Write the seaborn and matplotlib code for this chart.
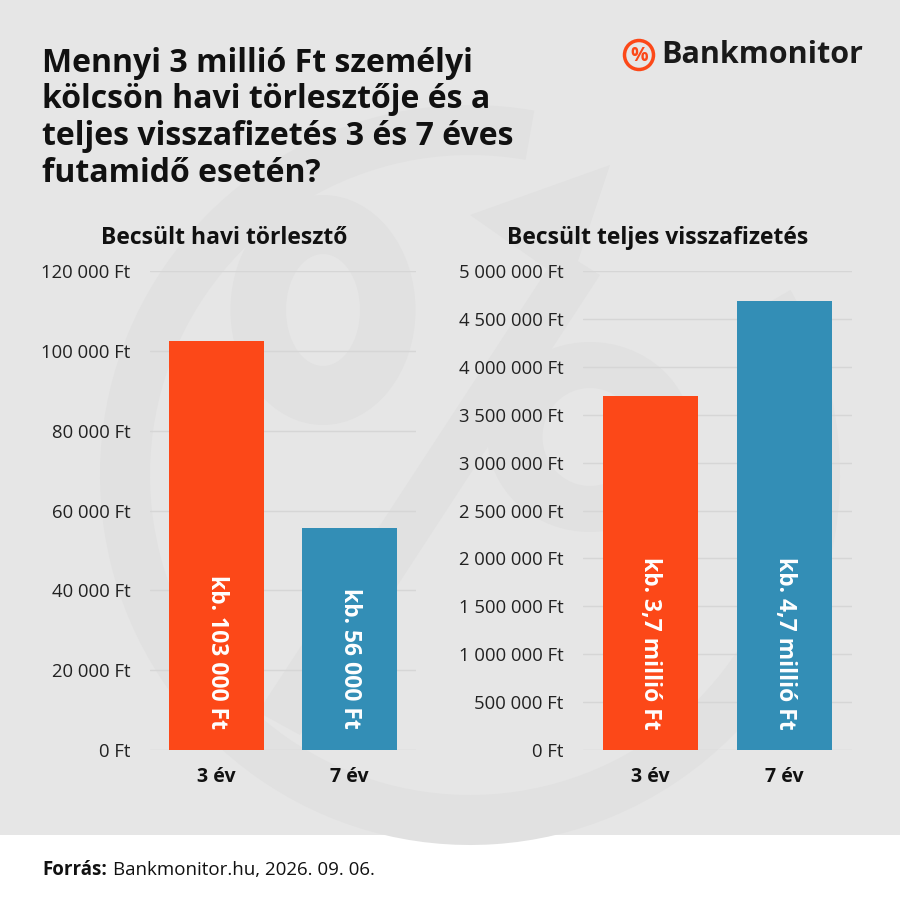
import numpy as np
import pandas as pd
import matplotlib.pyplot as plt
import seaborn as sns
from matplotlib.patches import Rectangle, Ellipse, Wedge, Polygon, Circle
from matplotlib.ticker import FuncFormatter, MultipleLocator

sns.set_theme(style="white")
plt.rcParams['font.family'] = ['Open Sans', 'DejaVu Sans']

# Data
periods = ["3 év", "7 év"]
monthly_payment = [102500, 55600]
monthly_labels = ["kb. 103 000 Ft", "kb. 56 000 Ft"]
total_repayment = [3690000, 4690000]
total_labels = ["kb. 3,7 millió Ft", "kb. 4,7 millió Ft"]

ORANGE = '#fc4818'
BLUE = '#338eb6'
BG = '#e6e6e6'
MARK = '#e1e1e1'
TEXT = '#111111'

fig = plt.figure(figsize=(9, 9), dpi=100, facecolor='white')

# background layer in pixel coordinates
bg = fig.add_axes([0, 0, 1, 1], zorder=-10)
bg.set_xlim(0, 900)
bg.set_ylim(900, 0)
bg.axis('off')
panel = Rectangle((0, 0), 900, 835, color=BG, lw=0)
bg.add_patch(panel)

# faint percent-sign watermark
shapes = [
    Wedge((470, 475), 370, -30, 280, width=50),
    Polygon([(470, 215), (610, 165), (570, 285)]),
    Polygon([(560, 250), (600, 275), (300, 735), (258, 712)]),
    Ellipse((323, 310), 185, 230),
    Ellipse((590, 437), 205, 190),
]
for s in shapes:
    s.set_facecolor(MARK)
    s.set_edgecolor('none')
    s.set_clip_path(panel)
    bg.add_patch(s)
for center, w, h in [((323, 310), 74, 112), ((590, 437), 95, 98)]:
    hole = Ellipse(center, w, h, facecolor=BG, edgecolor='none')
    hole.set_clip_path(panel)
    bg.add_patch(hole)


def ft_fmt(v, pos):
    return f"{int(round(v)):,}".replace(",", " ") + " Ft"


def draw_panel(ax, values, labels, ymax, step):
    df = pd.DataFrame({"period": periods, "value": values})
    sns.barplot(data=df, x="period", y="value", hue="period",
                palette=[ORANGE, BLUE], legend=False, width=0.71,
                saturation=1, linewidth=0, ax=ax, zorder=3)
    ax.set_facecolor('none')
    ax.set_xlim(-0.5, 1.5)
    ax.set_ylim(0, ymax)
    ax.yaxis.set_major_locator(MultipleLocator(step))
    ax.yaxis.set_major_formatter(FuncFormatter(ft_fmt))
    ax.grid(axis='y', color='#d6d6d6', lw=1, zorder=0)
    ax.set_axisbelow(True)
    for sp in ax.spines.values():
        sp.set_visible(False)
    ax.set_xlabel("")
    ax.set_ylabel("")
    ax.tick_params(axis='y', length=0, pad=14, labelsize=13.3, labelcolor='#222222')
    ax.tick_params(axis='x', length=0, pad=12, labelsize=14, labelcolor=TEXT)
    for t in ax.get_xticklabels():
        t.set_fontweight('bold')
    for i, lab in enumerate(labels):
        ax.annotate(lab, xy=(i, 0), xytext=(0, 15), textcoords='offset points',
                    rotation=-90, rotation_mode='anchor', ha='right', va='center',
                    color='white', fontsize=16.5, fontweight='bold', zorder=5)


ax1 = fig.add_axes([150 / 900, 150 / 900, 266 / 900, 479 / 900])
draw_panel(ax1, monthly_payment, monthly_labels, 120000, 20000)

ax2 = fig.add_axes([583 / 900, 150 / 900, 269 / 900, 479 / 900])
draw_panel(ax2, total_repayment, total_labels, 5000000, 500000)

# titles
fig.text(42 / 900, 1 - 47 / 900,
         "Mennyi 3 millió Ft személyi\nkölcsön havi törlesztője és a\n"
         "teljes visszafizetés 3 és 7 éves\nfutamidő esetén?",
         ha='left', va='top', fontsize=23, fontweight='bold', color=TEXT,
         linespacing=1.14)
fig.text(224 / 900, 1 - 238 / 900, "Becsült havi törlesztő", ha='center', va='center',
         fontsize=16.5, fontweight='bold', color=TEXT)
fig.text(658 / 900, 1 - 238 / 900, "Becsült teljes visszafizetés", ha='center', va='center',
         fontsize=16.5, fontweight='bold', color=TEXT)

# logo
bg.add_patch(Circle((639, 55), 14.5, facecolor='none', edgecolor=ORANGE, lw=2.5))
bg.text(639, 56, "%", ha='center', va='center', fontsize=14, fontweight='bold', color=ORANGE)
bg.text(661, 55, "Bankmonitor", ha='left', va='center', fontsize=22, fontweight='bold',
        color='#1a1a1a')

# footer
fig.text(42 / 900, 1 - 870 / 900, "Forrás:", ha='left', va='center', fontsize=13.5,
         fontweight='bold', color=TEXT)
fig.text(113 / 900, 1 - 870 / 900, "Bankmonitor.hu, 2026. 09. 06.", ha='left', va='center',
         fontsize=13.5, color=TEXT)

fig.savefig("out.png", dpi=100, facecolor=fig.get_facecolor())
